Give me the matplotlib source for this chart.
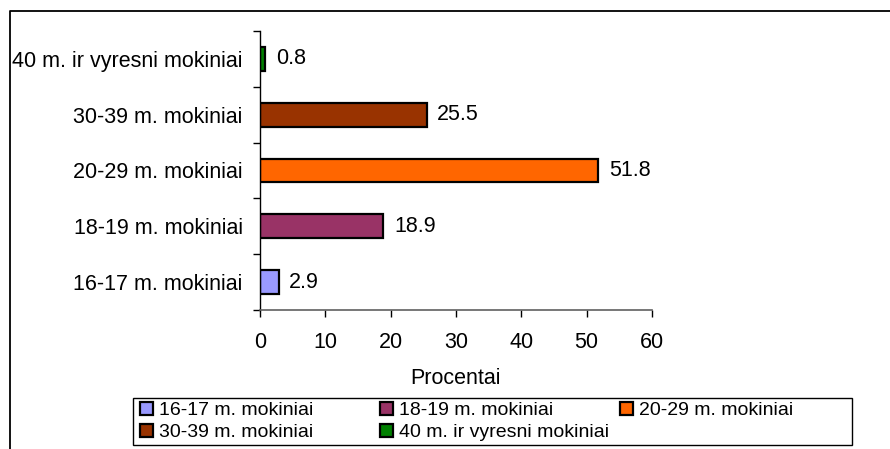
import matplotlib
matplotlib.use("Agg")
import matplotlib.pyplot as plt
from matplotlib.patches import Rectangle, Patch
from matplotlib.lines import Line2D

plt.rcParams['font.family'] = ['Liberation Sans', 'DejaVu Sans']

categories = ["16-17 m. mokiniai", "18-19 m. mokiniai", "20-29 m. mokiniai",
              "30-39 m. mokiniai", "40 m. ir vyresni mokiniai"]
values = [2.9, 18.9, 51.8, 25.5, 0.8]
colors = ["#9999FF", "#993366", "#FF6600", "#993300", "#008000"]
x_ticks = [0, 10, 20, 30, 40, 50, 60]
x_label = "Procentai"

W, H = 890, 449
fig = plt.figure(figsize=(W / 100, H / 100), dpi=100)
ax = fig.add_axes([260 / W, 1 - 310 / H, (652 - 260) / W, (310 - 31) / H])

ypos = list(range(len(categories)))
bars = ax.barh(ypos, values, height=0.43, color=colors, edgecolor="black", linewidth=1.6)
ax.bar_label(bars, labels=[f"{v:.1f}" for v in values], padding=7.5, fontsize=15.5)

ax.set_xlim(0, 60)
ax.set_ylim(-0.5, len(categories) - 0.5)
ax.set_xticks(x_ticks)
ax.set_xticklabels([str(t) for t in x_ticks], fontsize=15.5)
ax.set_yticks(ypos)
ax.set_yticklabels(categories, fontsize=15.5)
ax.set_yticks([y - 0.5 for y in range(len(categories) + 1)], minor=True)
ax.tick_params(axis="y", which="major", length=0, pad=12.5)
ax.tick_params(axis="y", which="minor", length=5, width=1, color="black", direction="out")
ax.tick_params(axis="x", which="major", length=5, width=1, color="black", direction="out", pad=11)
ax.set_xlabel(x_label, fontsize=15.5, labelpad=11)

for s in ["top", "right"]:
    ax.spines[s].set_visible(False)
ax.spines["left"].set_color("black")
ax.spines["bottom"].set_color("#606060")
ax.spines["left"].set_linewidth(1)
ax.spines["bottom"].set_linewidth(1.2)

# outer chart frame (left and top edges)
fig.add_artist(Line2D([10 / W, 10 / W, 1.0], [0.0, 1 - 11 / H, 1 - 11 / H],
                      transform=fig.transFigure, color="black", lw=1.3))

# legend frame
fig.add_artist(Rectangle((133 / W, 1 - 445 / H), (852 - 133) / W, (445 - 398) / H,
                         transform=fig.transFigure, fill=False, edgecolor="black", lw=1))

handles = [Patch(facecolor=c, edgecolor="black", linewidth=1.6, label=l)
           for c, l in zip(colors, categories)]
columns = [[0, 3], [1, 4], [2]]
col_x = [140, 380, 620]
for cx, idxs in zip(col_x, columns):
    fig.legend(handles=[handles[i] for i in idxs], loc="upper left",
               bbox_to_anchor=(cx / W, 1 - 402 / H), bbox_transform=fig.transFigure,
               frameon=False, fontsize=14, handlelength=0.65, handleheight=0.65,
               handletextpad=0.35, labelspacing=0.22, borderpad=0.0, borderaxespad=0.0)

fig.savefig("out.png", dpi=100)
